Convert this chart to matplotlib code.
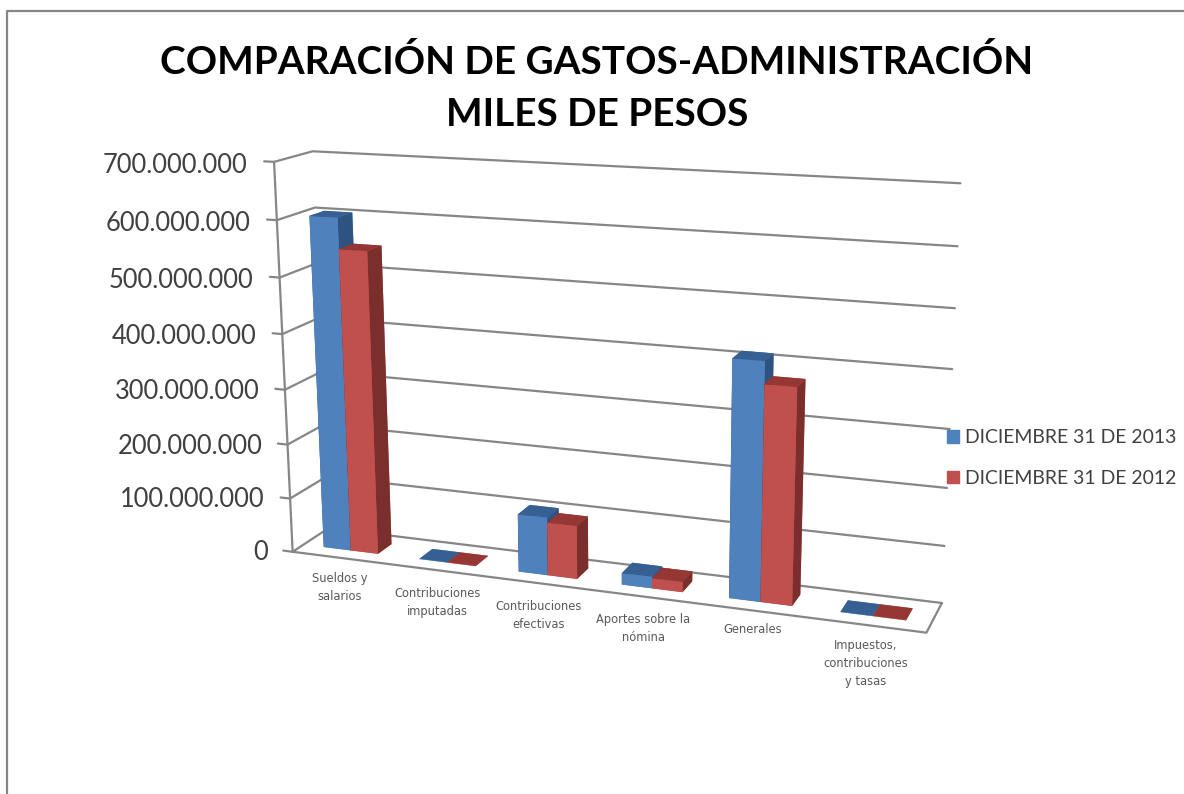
import numpy as np
import matplotlib
matplotlib.use("Agg")
import matplotlib.pyplot as plt
from matplotlib.lines import Line2D
from matplotlib.patches import Patch
from mpl_toolkits.mplot3d import proj3d

categories = ["Sueldos y\nsalarios", "Contribuciones\nimputadas", "Contribuciones\nefectivas",
              "Aportes sobre la\nnómina", "Generales", "Impuestos,\ncontribuciones\ny tasas"]
series_names = ["DICIEMBRE 31 DE 2013", "DICIEMBRE 31 DE 2012"]
values_2013 = [603000000, 500000, 104500000, 20500000, 412500000, 500000]
values_2012 = [548000000, 500000, 95500000, 18000000, 374000000, 500000]
ticks = [0, 100000000, 200000000, 300000000, 400000000, 500000000, 600000000, 700000000]

# front, top and side shade of each series
colors_2013 = ["#4F81BD", "#376092", "#2F5380"]
colors_2012 = ["#C0504D", "#953735", "#7B2F2D"]
grid_color = "#868686"
W, H = 1184, 794

# camera found by fitting the box corners of the picture
elev, azim, roll = 14.7292, -70.0256, 0.2104
focal = 0.45447
box = (1, 0.11983, 0.61504)
px_scale, center_x, center_y = 4205.576, 604.101, 379.877

plt.rcParams['font.family'] = ['Lato', 'DejaVu Sans']
fig = plt.figure(figsize=(W/100, H/100), dpi=100, facecolor="white")
side = 0.19*px_scale
ax = fig.add_axes([(center_x-side/2)/W, (H-center_y-side/2)/H, side/W, side/H], projection="3d")
ax.viewLim.intervalx = (-0.095, 0.095)
ax.viewLim.intervaly = (-0.095, 0.095)
ax.set_xlim(0, 6)
ax.set_ylim(0, 1)
ax.set_zlim(0, ticks[-1])
ax.view_init(elev, azim, roll)
ax.set_proj_type("persp", focal_length=focal)
ax.set_box_aspect(box)
ax.set_axis_off()
ax.computed_zorder = False

def flat_text(x, y, z, s, **kw):
    # plain 2d text placed where the 3d point lands
    xs, ys, _ = proj3d.proj_transform(x, y, z, ax.get_proj())
    return ax.text2D(xs, ys, s, transform=ax.transData, clip_on=False, **kw)

n = len(categories)
line = dict(color=grid_color, lw=1.6, zorder=1, solid_capstyle="round")
for v in ticks:
    ax.plot([-0.1, 0, 0], [0, 0, 0], [v, v, v], **line)
    ax.plot([0, 0, n], [0, 1, 1], [v, v, v], **line)
    label = f"{v:,}".replace(",", ".")
    flat_text(-0.27, 0, v-8000000, label, ha="right", va="center", fontsize=18.4, color="#404040")
ax.plot([0, 0], [0, 0], [0, ticks[-1]], **line)
ax.plot([0, n, n], [0, 0, 1], [0, 0, 0], **line)

# bars, 150% gap in width and depth like the excel default
bar_w = 1/3.5
bar_d = 0.4
for i in range(n):
    for j, (vals, cols) in enumerate([(values_2013, colors_2013), (values_2012, colors_2012)]):
        front, top, sidec = cols
        x0 = i + 0.75*bar_w + j*bar_w
        ax.bar3d(x0, 0.3, 0, bar_w, bar_d, vals[i], shade=False,
                 color=[front, top, front, front, sidec, sidec], zorder=2+i*2+j, linewidth=0)

label_drop = [27000000, 31000000, 31000000, 30000000, 22000000, 24000000]
for i, c in enumerate(categories):
    flat_text(i+0.49, 0, -label_drop[i], c, ha="center", va="top", fontsize=8.3, color="#595959",
              family=["DejaVu Sans"], linespacing=1.5, zorder=30)

fig.text(597/W, 1-88/H, "COMPARACIÓN DE GASTOS-ADMINISTRACIÓN\nMILES DE PESOS", ha="center", va="center",
         fontsize=27.9, fontweight="bold", color="black", linespacing=1.6)

handles = [Patch(color=colors_2013[0]), Patch(color=colors_2012[0])]
fig.legend(handles, series_names, loc="upper left", bbox_to_anchor=(947/W, 1-429/H), frameon=False,
           fontsize=13.95, labelcolor="#404040", borderpad=0, borderaxespad=0, handlelength=0.64, handleheight=0.64,
           handletextpad=0.3, labelspacing=1.23)

# chart border, only the top and left edges are in the crop
fig.add_artist(Line2D([7/W, 7/W, 1], [0, 1-11/H, 1-11/H], color=grid_color, lw=1.6))

fig.savefig("out.png", dpi=100)
